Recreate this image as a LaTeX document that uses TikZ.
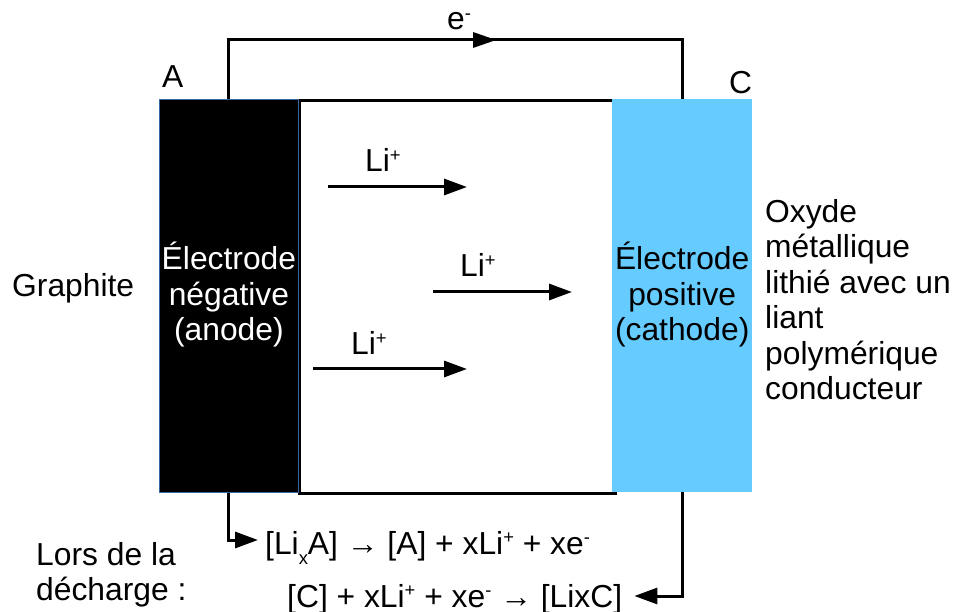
\documentclass[tikz,border=0pt]{standalone}
\usepackage{fontspec}
\setmainfont{Liberation Sans}
\usetikzlibrary{arrows.meta}
\definecolor{cathblue}{HTML}{66CCFF}
\definecolor{edgeblue}{HTML}{3465A4}
\newcommand{\myup}[1]{\raisebox{10.5pt}{\fontsize{18.4}{18.4}\selectfont #1}}
\newcommand{\mydown}[1]{\raisebox{-10.5pt}{\fontsize{18.4}{18.4}\selectfont #1}}
\begin{document}
\begin{tikzpicture}[x=1pt,y=-1pt,
  wire/.style={line width=3pt},
  tip/.style={-{Triangle[length=23pt,width=16pt]}},
  txt/.style={inner sep=0pt,font=\fontsize{31.8}{35.5}\selectfont},
  ]
\useasboundingbox (0,0) rectangle (954,612);
% electrolyte box
\node[draw=black,line width=3pt,minimum width=316pt,minimum height=393pt,anchor=north west,inner sep=0pt] (elec) at (298,99) {};
% electrodes
\node[fill=black,draw=edgeblue,line width=0.8pt,minimum width=139pt,minimum height=393pt,anchor=north west,inner sep=0pt] (anode) at (159,99) {};
\node[fill=cathblue,minimum width=140pt,minimum height=393pt,anchor=north west,inner sep=0pt] (cathode) at (612,99) {};
\node[txt,text=white,align=center] (alab) at ([yshift=1pt]anode.center) {Électrode\\négative\\(anode)};
\node[txt,align=center] (clab) at ([yshift=1pt]cathode.center) {Électrode\\positive\\(cathode)};
% labels
\node[txt,anchor=base west] (A) at (162,88) {A};
\node[txt,anchor=base west] (C) at (729,94) {C};
\node[txt,anchor=base west] (e) at (447,30) {e\myup{-}};
\node[txt,anchor=base west] (graph) at (12,297) {Graphite};
\node[txt,anchor=north west,align=left] (oxyde) at (765,199) {Oxyde\\métallique\\lithié avec un\\liant\\polymérique\\conducteur};
\node[txt,anchor=north west,align=left] (lors) at (36,542) {Lors de la\\décharge :};
% external circuit
\coordinate (ytop) at (0,40);
\draw[wire] (anode.north) -- (anode.north |- ytop) -| (cathode.north);
\coordinate (t1) at (472,40);
\coordinate (t2) at (496,40);
\draw[line width=0pt,tip] (t1) -- (t2);
% Li+ arrows
\coordinate (l1a) at (328,187); \coordinate (l1b) at (467,187);
\coordinate (l2a) at (433,292); \coordinate (l2b) at (572,292);
\coordinate (l3a) at (313,369); \coordinate (l3b) at (467,369);
\draw[wire,tip] (l1a) -- (l1b);
\draw[wire,tip] (l2a) -- (l2b);
\draw[wire,tip] (l3a) -- (l3b);
\node[txt,anchor=base west] (li1) at (365,172) {Li\myup{+}};
\node[txt,anchor=base west] (li2) at (460,277) {Li\myup{+}};
\node[txt,anchor=base west] (li3) at (351,355) {Li\myup{+}};
% equations
\node[txt,anchor=base west] (eq1) at (265,554) {[Li\mydown{x}A] → [A] + xLi\myup{+} + xe\myup{-}};
\node[txt,anchor=base west] (eq2) at (287,607) {[C] + xLi\myup{+} + xe\myup{-} → [LixC]};
\coordinate (y1) at (0,540);
\coordinate (y2) at (0,596);
\draw[wire,tip] (anode.south) -- (anode.south |- y1) -- ([xshift=-7pt]eq1.west |- y1);
\draw[wire,tip] (cathode.south) -- (cathode.south |- y2) -- ([xshift=12pt]eq2.east |- y2);
\end{tikzpicture}
\end{document}
